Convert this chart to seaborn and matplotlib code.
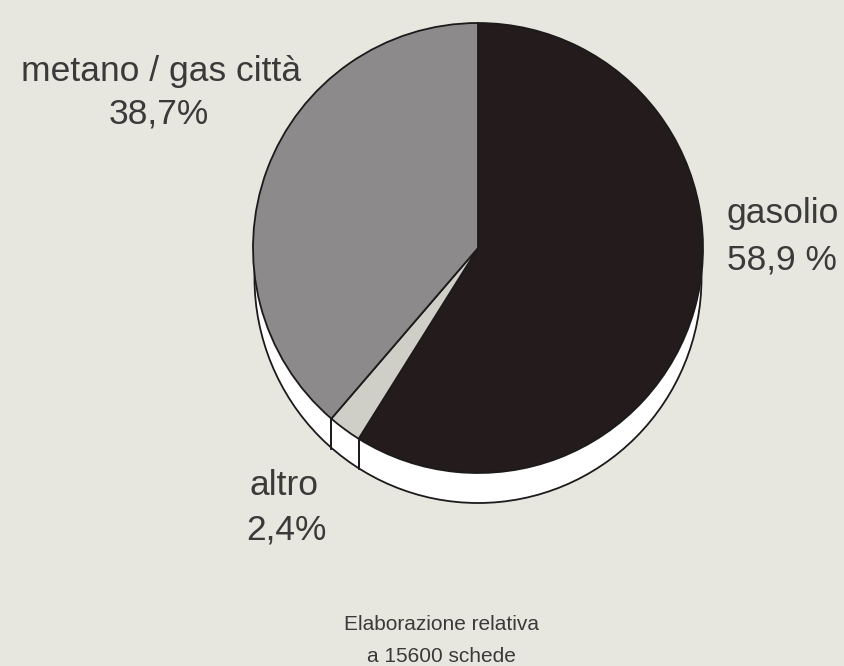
import numpy as np
import matplotlib
matplotlib.use("Agg")
import matplotlib.pyplot as plt
from matplotlib.patches import Ellipse
import seaborn as sns

# dati della torta
categorie = ["gasolio", "altro", "metano / gas città"]
percentuali = [58.9, 2.4, 38.7]
etichette_pct = ["58,9 %", "2,4%", "38,7%"]
colori = ["#241b1d", "#cfcfc8", "#8c8a8a"]
nota = ["Elaborazione relativa", "a 15600 schede"]

sns.set_theme(style="white")
plt.rcParams['font.family'] = ['Liberation Sans', 'DejaVu Sans']

sfondo = "#e8e7df"
testo = "#3a3a3a"
bordo = "#1c1a1a"

fig = plt.figure(figsize=(8.44, 6.66), dpi=100)
fig.patch.set_facecolor(sfondo)
ax = fig.add_axes([0, 0, 1, 1])
ax.set_facecolor(sfondo)

H = 666
cx, cy, r = 478, H - 248, 225
spessore = 30

# fianco della torta (effetto 3D)
ax.add_patch(Ellipse((cx, cy - spessore), 2 * r - 3, 2 * r, facecolor="white",
                     edgecolor=bordo, linewidth=1.3, zorder=1))

wedges, _ = ax.pie(percentuali, colors=colori, startangle=90, counterclock=False,
                   center=(cx, cy), radius=r, frame=True,
                   wedgeprops=dict(edgecolor=bordo, linewidth=1.3))
for w in wedges:
    w.set_zorder(2)
ax.set_xlim(0, 844)
ax.set_ylim(0, H)
ax.set_aspect("equal")
ax.axis("off")

# spigoli verticali visibili sul fianco
for w in wedges:
    for th in (w.theta1, w.theta2):
        a = np.deg2rad(th)
        px, py = cx + r * np.cos(a), cy + r * np.sin(a)
        if py < cy - 5:
            ax.plot([px, px], [py, py - spessore], color=bordo, lw=1.3, zorder=3)

fs = 25.5
ax.text(727, H - 223, categorie[0], fontsize=fs, color=testo, ha="left", va="baseline")
ax.text(727, H - 270, etichette_pct[0], fontsize=fs, color=testo, ha="left", va="baseline")
ax.text(284, H - 495, categorie[1], fontsize=fs, color=testo, ha="center", va="baseline")
ax.text(286, H - 540, etichette_pct[1], fontsize=fs, color=testo, ha="center", va="baseline")
ax.text(161, H - 81, categorie[2], fontsize=fs, color=testo, ha="center", va="baseline")
ax.text(159, H - 124, etichette_pct[2], fontsize=fs, color=testo, ha="center", va="baseline")

ax.text(441, H - 630, nota[0], fontsize=15, color=testo, ha="center", va="baseline")
ax.text(441, H - 662, nota[1], fontsize=15, color=testo, ha="center", va="baseline")

fig.savefig("out.png", dpi=100, facecolor=sfondo)
